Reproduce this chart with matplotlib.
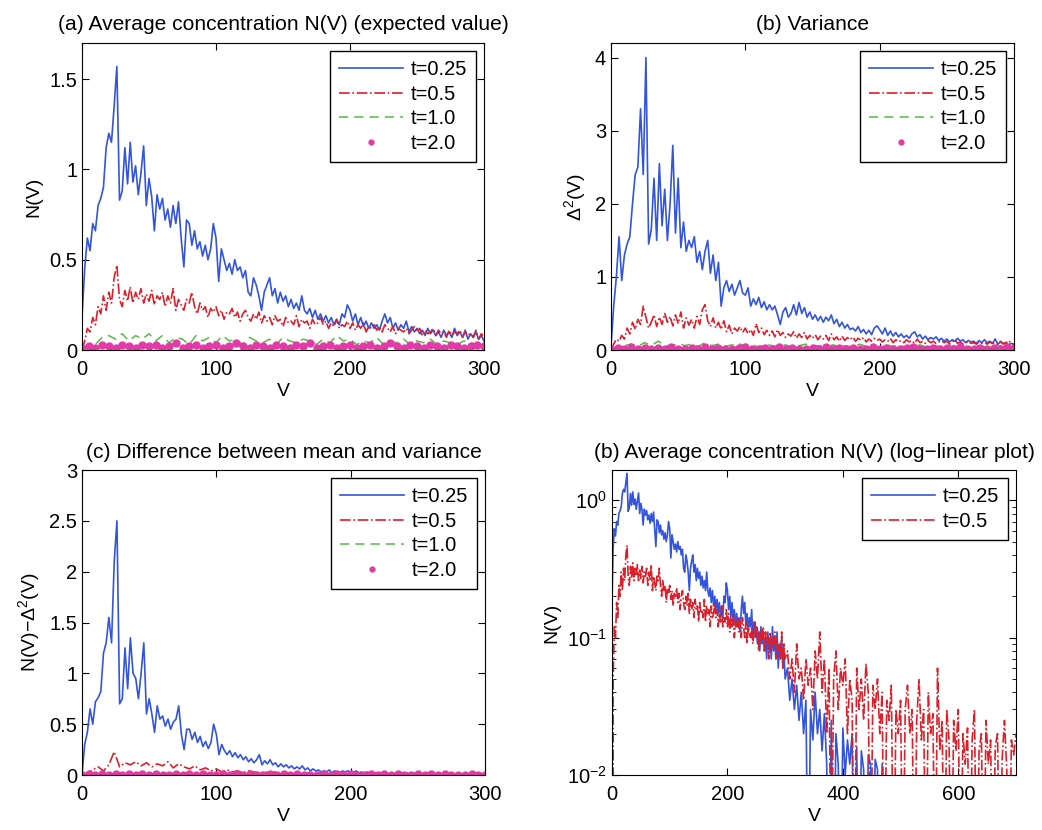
import numpy as np
import matplotlib
matplotlib.use("Agg")
import matplotlib.pyplot as plt
from matplotlib.ticker import FormatStrFormatter

plt.rcParams['font.family'] = ['Liberation Sans', 'DejaVu Sans']
plt.rcParams['font.size'] = 14
plt.rcParams['mathtext.fontset'] = 'custom'
plt.rcParams['mathtext.rm'] = 'Liberation Sans'
plt.rcParams['mathtext.it'] = 'Liberation Sans'

labels = ['t=0.25', 't=0.5', 't=1.0', 't=2.0']

# V grids
V2 = np.arange(0, 301, 2)
V4 = np.arange(0, 301, 4)
V5 = np.arange(0, 301, 5)
V_ext_blue = np.arange(304, 481, 4)
V_ext_red = np.arange(304, 701, 4)

# (a) mean N(V)
mean_t025 = [0.18, 0.45, 0.62, 0.55, 0.70, 0.66, 0.80, 0.84, 0.90, 1.12,
             1.20, 1.15, 1.35, 1.57, 0.83, 0.88, 1.12, 0.92, 1.15, 0.93,
             1.02, 0.86, 0.98, 1.13, 0.80, 0.95, 0.85, 0.66, 0.86, 0.78,
             0.84, 0.72, 0.78, 0.68, 0.80, 0.70, 0.82, 0.62, 0.46, 0.72,
             0.70, 0.58, 0.66, 0.56, 0.60, 0.52, 0.58, 0.50, 0.56, 0.70,
             0.62, 0.38, 0.56, 0.50, 0.44, 0.48, 0.42, 0.50, 0.44, 0.46,
             0.40, 0.44, 0.32, 0.30, 0.40, 0.36, 0.30, 0.22, 0.32, 0.36,
             0.40, 0.30, 0.34, 0.26, 0.32, 0.27, 0.30, 0.24, 0.28, 0.23,
             0.26, 0.22, 0.30, 0.22, 0.20, 0.23, 0.18, 0.22, 0.17, 0.20,
             0.16, 0.19, 0.15, 0.18, 0.14, 0.17, 0.14, 0.20, 0.18, 0.25,
             0.22, 0.16, 0.20, 0.14, 0.18, 0.13, 0.16, 0.12, 0.15, 0.12,
             0.14, 0.11, 0.16, 0.20, 0.15, 0.18, 0.12, 0.15, 0.11, 0.14,
             0.12, 0.16, 0.10, 0.13, 0.10, 0.12, 0.09, 0.11, 0.08, 0.12,
             0.09, 0.11, 0.08, 0.10, 0.07, 0.11, 0.08, 0.10, 0.07, 0.12,
             0.08, 0.10, 0.07, 0.11, 0.06, 0.09, 0.07, 0.10, 0.06, 0.08,
             0.05]
mean_t05 = [0.00, 0.05, 0.12, 0.10, 0.18, 0.14, 0.24, 0.20, 0.30, 0.22,
            0.32, 0.26, 0.40, 0.47, 0.28, 0.24, 0.33, 0.27, 0.35, 0.26,
            0.32, 0.28, 0.34, 0.26, 0.31, 0.27, 0.33, 0.25, 0.30, 0.28,
            0.32, 0.24, 0.30, 0.26, 0.34, 0.22, 0.28, 0.25, 0.22, 0.28,
            0.26, 0.32, 0.24, 0.20, 0.26, 0.22, 0.24, 0.18, 0.23, 0.21,
            0.24, 0.19, 0.22, 0.17, 0.21, 0.20, 0.23, 0.18, 0.21, 0.16,
            0.20, 0.22, 0.18, 0.16, 0.20, 0.17, 0.21, 0.15, 0.19, 0.16,
            0.18, 0.14, 0.19, 0.16, 0.17, 0.13, 0.18, 0.15, 0.16, 0.14,
            0.19, 0.13, 0.17, 0.15, 0.16, 0.12, 0.17, 0.14, 0.15, 0.18,
            0.14, 0.16, 0.12, 0.15, 0.13, 0.17, 0.12, 0.14, 0.13, 0.16,
            0.12, 0.15, 0.11, 0.14, 0.12, 0.15, 0.10, 0.13, 0.12, 0.14,
            0.11, 0.13, 0.10, 0.14, 0.12, 0.10, 0.13, 0.09, 0.12, 0.11,
            0.10, 0.12, 0.09, 0.11, 0.13, 0.10, 0.12, 0.08, 0.11, 0.09,
            0.10, 0.12, 0.08, 0.11, 0.09, 0.10, 0.07, 0.11, 0.08, 0.10,
            0.09, 0.11, 0.07, 0.10, 0.08, 0.09, 0.07, 0.11, 0.06, 0.09,
            0.07]
mean_t1 = [0.00, 0.02, 0.03, 0.07, 0.08, 0.06, 0.09, 0.05, 0.08, 0.06,
           0.09, 0.05, 0.08, 0.04, 0.07, 0.06, 0.03, 0.08, 0.05, 0.07,
           0.04, 0.08, 0.05, 0.06, 0.03, 0.07, 0.05, 0.04, 0.06, 0.03,
           0.07, 0.05, 0.04, 0.06, 0.05, 0.03, 0.06, 0.04, 0.08, 0.05,
           0.06, 0.03, 0.05, 0.04, 0.07, 0.03, 0.05, 0.04, 0.06, 0.03,
           0.05, 0.04, 0.06, 0.03, 0.05, 0.04, 0.03, 0.05, 0.04, 0.03,
           0.04]
mean_t2 = [0.01, 0.02, 0.01, 0.03, 0.02, 0.01, 0.03, 0.02, 0.01, 0.03,
           0.02, 0.03, 0.01, 0.02, 0.04, 0.01, 0.02, 0.03, 0.01, 0.02,
           0.03, 0.01, 0.02, 0.04, 0.02, 0.01, 0.03, 0.02, 0.01, 0.03,
           0.02, 0.01, 0.03, 0.02, 0.04, 0.01, 0.02, 0.03, 0.01, 0.02,
           0.03, 0.01, 0.02, 0.03, 0.01, 0.02, 0.04, 0.02, 0.01, 0.03,
           0.02, 0.01, 0.03, 0.02, 0.01, 0.03, 0.02, 0.01, 0.02, 0.03,
           0.02]

# (b) variance
var_t025 = [0.05, 0.60, 1.00, 1.55, 0.95, 1.30, 1.45, 1.55, 2.00, 2.40,
            2.50, 3.30, 2.40, 4.00, 1.45, 1.65, 2.35, 1.50, 2.55, 1.70,
            2.20, 1.50, 2.00, 2.80, 1.60, 2.35, 1.40, 1.75, 1.35, 1.50,
            1.40, 1.55, 1.20, 1.35, 1.10, 1.35, 1.50, 1.05, 1.30, 0.95,
            1.20, 0.60, 0.85, 0.95, 0.80, 0.90, 0.75, 0.85, 0.95, 0.78,
            0.75, 0.85, 0.60, 0.70, 0.62, 0.72, 0.58, 0.66, 0.55, 0.62,
            0.55, 0.60, 0.48, 0.35, 0.52, 0.58, 0.45, 0.50, 0.62, 0.48,
            0.65, 0.50, 0.58, 0.45, 0.52, 0.42, 0.48, 0.40, 0.46, 0.38,
            0.45, 0.40, 0.48, 0.36, 0.42, 0.32, 0.38, 0.30, 0.35, 0.28,
            0.30, 0.26, 0.32, 0.24, 0.28, 0.22, 0.27, 0.21, 0.30, 0.33,
            0.28, 0.22, 0.30, 0.20, 0.26, 0.19, 0.24, 0.18, 0.22, 0.17,
            0.20, 0.16, 0.22, 0.25, 0.18, 0.21, 0.15, 0.19, 0.14, 0.17,
            0.15, 0.18, 0.13, 0.16, 0.12, 0.15, 0.11, 0.14, 0.12, 0.16,
            0.12, 0.14, 0.10, 0.13, 0.11, 0.12, 0.09, 0.13, 0.10, 0.14,
            0.10, 0.12, 0.09, 0.15, 0.08, 0.11, 0.09, 0.10, 0.07, 0.09,
            0.08]
var_t05 = [0.00, 0.08, 0.15, 0.12, 0.20, 0.15, 0.30, 0.22, 0.38, 0.28,
           0.42, 0.35, 0.60, 0.45, 0.30, 0.38, 0.48, 0.32, 0.45, 0.35,
           0.50, 0.38, 0.46, 0.33, 0.48, 0.36, 0.52, 0.30, 0.44, 0.34,
           0.42, 0.30, 0.46, 0.35, 0.55, 0.62, 0.40, 0.32, 0.44, 0.30,
           0.38, 0.28, 0.40, 0.25, 0.34, 0.22, 0.30, 0.26, 0.32, 0.24,
           0.30, 0.22, 0.28, 0.20, 0.36, 0.24, 0.30, 0.21, 0.27, 0.20,
           0.26, 0.18, 0.28, 0.20, 0.24, 0.17, 0.22, 0.19, 0.25, 0.16,
           0.22, 0.17, 0.24, 0.15, 0.20, 0.16, 0.21, 0.14, 0.19, 0.15,
           0.20, 0.13, 0.22, 0.14, 0.18, 0.12, 0.19, 0.13, 0.17, 0.14,
           0.18, 0.12, 0.16, 0.13, 0.17, 0.11, 0.15, 0.12, 0.16, 0.13,
           0.15, 0.11, 0.14, 0.12, 0.16, 0.10, 0.14, 0.11, 0.13, 0.10,
           0.14, 0.11, 0.13, 0.09, 0.15, 0.10, 0.12, 0.09, 0.13, 0.10,
           0.12, 0.09, 0.11, 0.13, 0.10, 0.12, 0.08, 0.11, 0.14, 0.09,
           0.11, 0.08, 0.10, 0.12, 0.09, 0.10, 0.08, 0.11, 0.09, 0.10,
           0.08, 0.11, 0.09, 0.10, 0.07, 0.12, 0.08, 0.10, 0.13, 0.09,
           0.07]
var_t1 = [0.00, 0.04, 0.06, 0.08, 0.05, 0.10, 0.06, 0.12, 0.07, 0.05,
          0.09, 0.06, 0.08, 0.05, 0.10, 0.06, 0.08, 0.05, 0.07, 0.09,
          0.05, 0.07, 0.04, 0.08, 0.06, 0.05, 0.07, 0.04, 0.06, 0.08,
          0.05, 0.06, 0.04, 0.07, 0.05, 0.06, 0.04, 0.08, 0.05, 0.06,
          0.04, 0.07, 0.05, 0.06, 0.04, 0.05, 0.07, 0.04, 0.06, 0.05,
          0.04, 0.06, 0.05, 0.04, 0.06, 0.05, 0.04, 0.05, 0.06, 0.04,
          0.05]
var_t2 = [0.01, 0.03, 0.02, 0.04, 0.02, 0.03, 0.01, 0.03, 0.02, 0.04,
          0.02, 0.01, 0.03, 0.02, 0.04, 0.02, 0.03, 0.01, 0.02, 0.03,
          0.04, 0.02, 0.01, 0.03, 0.02, 0.04, 0.02, 0.03, 0.01, 0.02,
          0.03, 0.02, 0.04, 0.01, 0.03, 0.02, 0.03, 0.01, 0.02, 0.04,
          0.02, 0.03, 0.01, 0.02, 0.03, 0.04, 0.02, 0.01, 0.03, 0.02,
          0.03, 0.02, 0.04, 0.02, 0.01, 0.03, 0.02, 0.03, 0.02, 0.04,
          0.03]

# (c) mean minus variance
diff_t025 = [0.00, 0.30, 0.42, 0.65, 0.50, 0.72, 0.76, 0.82, 1.20, 1.30,
             1.55, 1.30, 2.10, 2.50, 0.70, 0.75, 1.25, 0.85, 1.35, 1.00,
             0.95, 0.75, 1.00, 1.30, 0.60, 0.75, 0.60, 0.42, 0.68, 0.55,
             0.58, 0.48, 0.55, 0.45, 0.52, 0.55, 0.68, 0.40, 0.25, 0.45,
             0.45, 0.35, 0.42, 0.32, 0.38, 0.28, 0.33, 0.26, 0.32, 0.50,
             0.40, 0.20, 0.30, 0.24, 0.20, 0.24, 0.18, 0.22, 0.17, 0.20,
             0.15, 0.18, 0.13, 0.16, 0.12, 0.15, 0.20, 0.10, 0.14, 0.11,
             0.15, 0.10, 0.12, 0.08, 0.11, 0.08, 0.10, 0.07, 0.09, 0.06,
             0.08, 0.06, 0.09, 0.05, 0.07, 0.04, 0.06, 0.04, 0.05, 0.03,
             0.04, 0.03, 0.05, 0.02, 0.04, 0.03, 0.02, 0.04, 0.03, 0.04,
             0.03, 0.02, 0.04, 0.02, 0.03, 0.01, 0.03, 0.02, 0.01, 0.02,
             0.02, 0.01, 0.03, 0.02, 0.01, 0.02, 0.01, 0.02, 0.01, 0.02,
             0.01, 0.02, 0.01, 0.01, 0.02, 0.01, 0.02, 0.01, 0.01, 0.01,
             0.01, 0.00, 0.01, 0.01, 0.00, 0.01, 0.01, 0.00, 0.01, 0.00,
             0.01, 0.00, 0.00, 0.01, 0.00, 0.00, 0.01, 0.00, 0.00, 0.00,
             0.00]
diff_t05 = [0.00, 0.02, 0.05, 0.08, 0.04, 0.10, 0.23, 0.08, 0.12, 0.10,
            0.13, 0.09, 0.12, 0.08, 0.11, 0.09, 0.13, 0.07, 0.11, 0.08,
            0.06, 0.09, 0.05, 0.07, 0.04, 0.06, 0.03, 0.05, 0.03, 0.04,
            0.02, 0.04, 0.03, 0.02, 0.03, 0.02, 0.03, 0.01, 0.02, 0.01,
            0.02, 0.01, 0.02, 0.01, 0.01, 0.02, 0.01, 0.01, 0.00, 0.01,
            0.01, 0.00, 0.01, 0.00, 0.01, 0.00, 0.01, 0.00, 0.00, 0.01,
            0.00, 0.00, 0.01, 0.00, 0.00, 0.00, 0.00, 0.00, 0.00, 0.00,
            0.00, 0.00, 0.00, 0.00, 0.00, 0.00]
diff_t1 = [0.000, 0.004, 0.006, 0.003, 0.005, 0.002, 0.006, 0.003, 0.004, 0.002,
           0.005, 0.003, 0.004, 0.002, 0.003, 0.004, 0.002, 0.003, 0.002, 0.003,
           0.002, 0.003, 0.001, 0.002, 0.003, 0.001, 0.002, 0.001, 0.002, 0.001,
           0.002, 0.001, 0.001, 0.002, 0.001, 0.001, 0.002, 0.001, 0.001, 0.001,
           0.001, 0.001, 0.000, 0.001, 0.001, 0.000, 0.001, 0.000, 0.001, 0.000,
           0.000, 0.001, 0.000, 0.000, 0.001, 0.000, 0.000, 0.000, 0.000, 0.000,
           0.000]
diff_t2 = [0.000, 0.005, 0.002, 0.008, 0.003, 0.006, 0.001, 0.007, 0.003, 0.005,
           0.002, 0.006, 0.004, 0.001, 0.007, 0.003, 0.005, 0.002, 0.006, 0.001,
           0.004, 0.007, 0.002, 0.005, 0.003, 0.006, 0.001, 0.004, 0.007, 0.002,
           0.005, 0.003, 0.006, 0.001, 0.004, 0.002, 0.007, 0.003, 0.005, 0.001,
           0.006, 0.002, 0.004, 0.007, 0.003, 0.005, 0.001, 0.006, 0.002, 0.004,
           0.007, 0.003, 0.005, 0.001, 0.006, 0.002, 0.004, 0.003, 0.005, 0.002,
           0.004]

# (d) tails beyond V=300 for the log plot
mean_t025_tail = [0.060, 0.035, 0.050, 0.030, 0.045, 0.025, 0.040, 0.020, 0.035, 0.001,
                  0.030, 0.018, 0.040, 0.020, 0.030, 0.015, 0.028, 0.012, 0.001, 0.025,
                  0.001, 0.020, 0.012, 0.001, 0.022, 0.010, 0.018, 0.012, 0.020, 0.001,
                  0.016, 0.001, 0.015, 0.011, 0.001, 0.014, 0.012, 0.001, 0.013, 0.011,
                  0.001, 0.012, 0.001, 0.000, 0.000]
mean_t05_tail = [0.080, 0.050, 0.070, 0.040, 0.090, 0.050, 0.060, 0.035, 0.070, 0.045,
                 0.060, 0.030, 0.080, 0.050, 0.110, 0.040, 0.070, 0.020, 0.060, 0.001,
                 0.050, 0.080, 0.030, 0.060, 0.045, 0.070, 0.020, 0.050, 0.035, 0.001,
                 0.060, 0.030, 0.050, 0.025, 0.065, 0.040, 0.001, 0.045, 0.030, 0.050,
                 0.020, 0.040, 0.001, 0.035, 0.025, 0.045, 0.001, 0.030, 0.020, 0.035,
                 0.001, 0.030, 0.045, 0.020, 0.030, 0.001, 0.025, 0.050, 0.018, 0.030,
                 0.001, 0.040, 0.020, 0.028, 0.001, 0.060, 0.015, 0.025, 0.001, 0.030,
                 0.018, 0.001, 0.025, 0.015, 0.030, 0.001, 0.020, 0.012, 0.022, 0.001,
                 0.018, 0.030, 0.001, 0.015, 0.020, 0.001, 0.025, 0.012, 0.018, 0.001,
                 0.016, 0.020, 0.001, 0.013, 0.025, 0.011, 0.001, 0.018, 0.014, 0.020]

blue = '#3355dd'
red = '#dd1f2a'
green = '#55bb44'
magenta = '#e23aa6'


def draw_four(ax, y025, y05, x05, y1, y2):
    ax.plot(V2, y025, color=blue, lw=1.2, label=labels[0])
    ax.plot(x05, y05, color=red, lw=1.2, ls='-.', label=labels[1])
    ax.plot(V5, y1, color=green, lw=1.1, ls=(0, (6, 4)), label=labels[2])
    ax.plot(V5, y2, color=magenta, ls='none', marker='.', ms=10, label=labels[3])


def style(ax, title, ylabel):
    ax.set_title(title, pad=9, fontsize=15.1)
    ax.set_xlabel('V', labelpad=3)
    ax.set_ylabel(ylabel, labelpad=5)
    ax.tick_params(direction='in', top=True, right=True, length=5, labelsize=14.5)
    ax.tick_params(axis='x', pad=7)
    ax.tick_params(which='minor', direction='in', top=True, right=True, length=3)
    leg = ax.legend(loc='upper right', numpoints=1, handlelength=3.2,
                    fancybox=False, framealpha=1, edgecolor='black',
                    borderaxespad=0.4, labelspacing=0.28, handletextpad=0.35,
                    borderpad=0.45, fontsize=14.5)
    leg.get_frame().set_linewidth(1.0)
    for h in leg.legend_handles:
        if h.get_marker() == '.':
            h.set_markersize(7)


fig = plt.figure(figsize=(10.42, 8.30), dpi=100)
W, H = 1042, 830

ax1 = fig.add_axes([82 / W, 1 - 350 / H, 402 / W, 307 / H])
draw_four(ax1, mean_t025, mean_t05, V2, mean_t1, mean_t2)
ax1.set_xlim(0, 300)
ax1.set_ylim(0, 1.7)
ax1.set_xticks([0, 100, 200, 300])
ax1.set_yticks([0, 0.5, 1, 1.5])
ax1.yaxis.set_major_formatter(FormatStrFormatter('%g'))
style(ax1, '(a) Average concentration N(V) (expected value)', 'N(V)')

ax2 = fig.add_axes([611 / W, 1 - 350 / H, 403 / W, 307 / H])
draw_four(ax2, var_t025, var_t05, V2, var_t1, var_t2)
ax2.set_xlim(0, 300)
ax2.set_ylim(0, 4.2)
ax2.set_xticks([0, 100, 200, 300])
ax2.set_yticks([0, 1, 2, 3, 4])
style(ax2, '(b) Variance', r'$\Delta^2$(V)')

ax3 = fig.add_axes([82 / W, 1 - 775 / H, 403 / W, 305 / H])
draw_four(ax3, diff_t025, diff_t05, V4, diff_t1, diff_t2)
ax3.set_xlim(0, 300)
ax3.set_ylim(0, 3)
ax3.set_xticks([0, 100, 200, 300])
ax3.set_yticks([0, 0.5, 1, 1.5, 2, 2.5, 3])
ax3.yaxis.set_major_formatter(FormatStrFormatter('%g'))
style(ax3, '(c) Difference between mean and variance', r'N(V)$-\Delta^2$(V)')

ax4 = fig.add_axes([612 / W, 1 - 775 / H, 404 / W, 305 / H])
ax4.plot(np.concatenate([V2, V_ext_blue]), np.concatenate([mean_t025, mean_t025_tail]),
         color=blue, lw=1.2, label=labels[0])
ax4.plot(np.concatenate([V2, V_ext_red]), np.concatenate([mean_t05, mean_t05_tail]),
         color=red, lw=1.2, ls='-.', label=labels[1])
ax4.set_yscale('log')
ax4.set_xlim(0, 700)
ax4.set_ylim(0.01, 1.66)
ax4.set_xticks([0, 200, 400, 600])
style(ax4, '(b) Average concentration N(V) (log\u2212linear plot)', 'N(V)')

fig.savefig('out.png', dpi=100)
